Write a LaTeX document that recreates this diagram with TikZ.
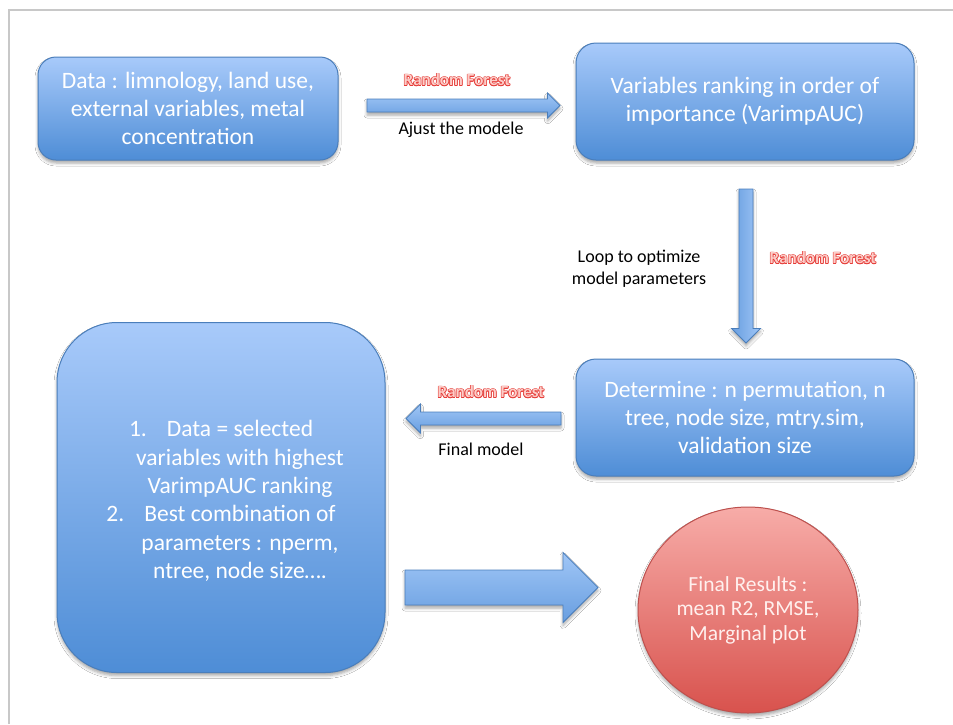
\documentclass[tikz,border=0pt]{standalone}
\usepackage{fontspec}
\setmainfont{Carlito}
\usetikzlibrary{shapes.geometric,shadows.blur}
\definecolor{boxtop}{RGB}{168,202,250}
\definecolor{boxbot}{RGB}{78,141,214}
\definecolor{boxline}{RGB}{74,126,187}
\definecolor{arrtop}{RGB}{160,198,246}
\definecolor{arrbot}{RGB}{104,158,224}
\definecolor{elltop}{RGB}{247,172,168}
\definecolor{ellbot}{RGB}{216,82,77}
\definecolor{ellline}{RGB}{190,80,77}
\definecolor{rfred}{RGB}{230,60,56}
\definecolor{rffill}{RGB}{252,205,200}
\definecolor{framegray}{RGB}{200,200,200}
\newcommand\arrowR[5]{\path[fatarrow] (#1,#3-#4) -- (#2-#5,#3-#4) -- (#2-#5,#3-#5) -- (#2,#3) -- (#2-#5,#3+#5) -- (#2-#5,#3+#4) -- (#1,#3+#4) -- cycle;}
\newcommand\arrowL[5]{\path[fatarrow] (#2,#3-#4) -- (#1+#5,#3-#4) -- (#1+#5,#3-#5) -- (#1,#3) -- (#1+#5,#3+#5) -- (#1+#5,#3+#4) -- (#2,#3+#4) -- cycle;}
\newcommand\arrowD[5]{\path[fatarrow,left color=arrbot,right color=arrtop] (#1-#4,#2) -- (#1-#4,#3-#5) -- (#1-#5,#3-#5) -- (#1,#3) -- (#1+#5,#3-#5) -- (#1+#4,#3-#5) -- (#1+#4,#2) -- cycle;}
\newcommand\rfcopy[3]{\rlap{\kern#1\raise#2\hbox{\textcolor{rfred}{#3}}}}
\newcommand\outlined[1]{\leavevmode
  \rfcopy{0.65pt}{0pt}{#1}\rfcopy{-0.65pt}{0pt}{#1}\rfcopy{0pt}{0.65pt}{#1}\rfcopy{0pt}{-0.65pt}{#1}%
  \rfcopy{0.46pt}{0.46pt}{#1}\rfcopy{-0.46pt}{0.46pt}{#1}\rfcopy{0.46pt}{-0.46pt}{#1}\rfcopy{-0.46pt}{-0.46pt}{#1}%
  \textcolor{rffill}{#1}}
\tikzset{
  softshadow/.style={blur shadow={shadow xshift=0pt, shadow yshift=-3pt, shadow blur radius=3pt, shadow opacity=35}},
  bluebox/.style={draw=boxline, line width=1pt, top color=boxtop, bottom color=boxbot, softshadow,
    text=white, align=center, inner sep=0pt, font=\fontsize{23.5}{28}\selectfont},
  fatarrow/.style={draw=boxline, line width=0.8pt, top color=arrtop, bottom color=arrbot, softshadow},
  rflabel/.style={font=\fontsize{17}{20}\bfseries\selectfont, inner sep=0pt},
  smalllabel/.style={text=black, align=center, inner sep=0pt, font=\fontsize{18}{22}\selectfont},
}
\begin{document}
\begin{tikzpicture}[x=1pt,y=-1pt]
\useasboundingbox (0,0) rectangle (953,724);
\fill[white] (0,0) rectangle (953,724);
% frame
\draw[framegray, line width=1.5pt] (9,724) -- (9,10) -- (953,10);

% boxes
\node[bluebox, rounded corners=18pt, minimum width=300pt, minimum height=103pt] (data) at (188,108.5)
  {Data : limnology, land use,\\external variables, metal\\concentration};
\node[bluebox, rounded corners=20pt, minimum width=338pt, minimum height=117pt] (rank) at (745,101.5)
  {Variables ranking in order of\\importance (VarimpAUC)};
\node[bluebox, rounded corners=20pt, minimum width=338pt, minimum height=117pt] (det) at (745,417.5)
  {Determine : n permutation, n\\tree, node size, mtry.sim,\\validation size};
\node[bluebox, rounded corners=60pt, minimum width=328pt, minimum height=350pt] (final) at (221,497.5) {};
\node[text=white, align=center, inner sep=0pt, font=\fontsize{23.5}{28.4}\selectfont] (finaltext) at (240,501)
  {\llap{1.\hspace{20pt}}Data = selected\\variables with highest\\VarimpAUC ranking\\\llap{2.\hspace{20pt}}Best combination of\\parameters : nperm,\\ntree, node size\dots.};
\node[ellipse, draw=ellline, line width=1pt, top color=elltop, bottom color=ellbot, softshadow,
  minimum width=220pt, minimum height=206pt, inner sep=0pt, text={rgb,255:red,255;green,240;blue,238},
  align=center, font=\fontsize{21.5}{24.5}\selectfont] (res) at (748,610)
  {Final Results :\\mean R2, RMSE,\\Marginal plot};

% arrows
\arrowR{367}{560}{105.5}{6.5}{12.5}
\arrowD{746}{189}{343}{7}{14.5}
\arrowL{406}{561}{418.5}{6.5}{14.5}
\arrowR{405}{598}{587.5}{17.5}{35}

% labels
\node[rflabel] (rf1) at (457,80) {\outlined{Random Forest}};
\node[smalllabel] (l1) at (461,130) {Ajust the modele};
\node[smalllabel] (l2) at (639,269) {Loop to optimize\\model parameters};
\node[rflabel] (rf2) at (823,258) {\outlined{Random Forest}};
\node[rflabel] (rf3) at (491,392) {\outlined{Random Forest}};
\node[smalllabel] (l3) at (481,449) {Final model};
\end{tikzpicture}
\end{document}
